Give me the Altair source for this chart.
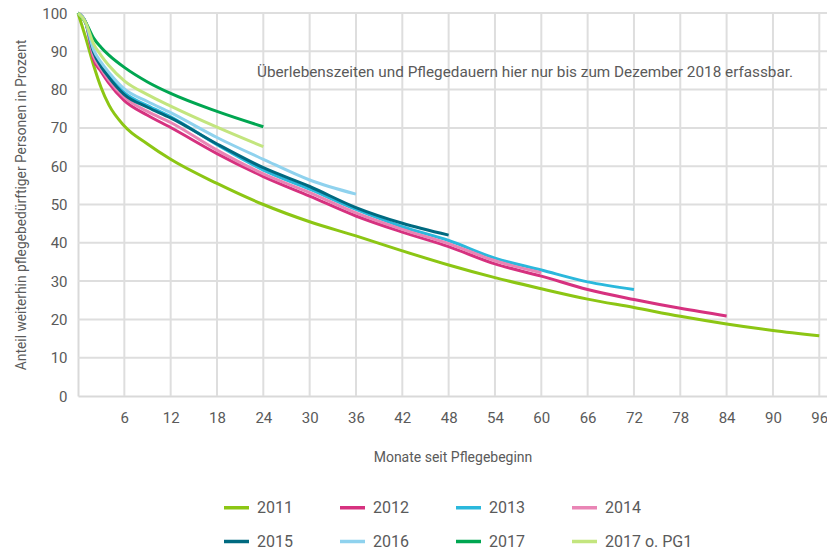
import altair as alt
import pandas as pd

months = [0, 1, 2, 3, 4, 6, 9, 12, 18, 24, 30, 36, 42, 48, 54, 60, 66, 72, 78, 84, 90, 96]

series_names = ["2011", "2012", "2013", "2014", "2015", "2016", "2017", "2017 o. PG1"]
series_colors = ["#8cc614", "#d6317f", "#2bb8dc", "#e985b5", "#006a80", "#8fd2ee", "#00a651", "#c3e57e"]

v2011 = [100, 93.5, 86.5, 80.5, 76, 70.5, 65.8, 61.8, 55.5, 50, 45.5, 41.8, 37.9, 34.2, 30.9, 28, 25.3, 23.1, 20.8, 18.8, 17.1, 15.7]
v2012 = [100, 97.5, 88, 84.7, 81.7, 77.1, 73.3, 70.1, 63.3, 57.3, 52.2, 47.0, 42.8, 39.0, 34.5, 31.3, 27.8, 25.2, 22.9, 20.9]
v2013 = [100, 97.5, 89.5, 86.3, 83.6, 79.2, 75.8, 72.9, 65.6, 59.0, 54.0, 48.7, 44.2, 40.6, 36.0, 32.9, 29.8, 27.8]
v2014 = [100, 97.5, 88.8, 85.4, 82.5, 78.0, 74.3, 71.4, 64.2, 58.0, 53.1, 47.8, 43.5, 39.8, 35.3, 32.2]
v2015 = [100, 97.5, 89.8, 86.0, 83.2, 78.7, 75.4, 72.6, 65.8, 59.6, 54.7, 49.2, 45.1, 42.0]
v2016 = [100, 97.5, 90.5, 87.1, 84.5, 80.2, 76.9, 74.0, 67.5, 61.8, 56.4, 52.7]
v2017 = [100, 97.5, 93.5, 91, 89, 85.8, 82, 79, 74.3, 70.3]
v2017pg1 = [100, 97.5, 92, 88.9, 86.3, 82.3, 78.7, 75.7, 70.2, 65.1]

x_ticks = [6, 12, 18, 24, 30, 36, 42, 48, 54, 60, 66, 72, 78, 84, 90, 96]
y_ticks = [0, 10, 20, 30, 40, 50, 60, 70, 80, 90, 100]
x_range = [0, 97]
y_range = [0, 100]

note_text = ["Überlebenszeiten und Pflegedauern hier nur bis zum Dezember 2018 erfassbar."]

rows = []
for name, vals in zip(series_names, [v2011, v2012, v2013, v2014, v2015, v2016, v2017, v2017pg1]):
    for m, v in zip(months, vals):
        rows.append({"Monat": m, "Anteil": v, "Jahr": name})
df = pd.DataFrame(rows)

FONT = "Roboto"
GREY = "#5a5a5a"
GRID = "#dedede"

x_scale = alt.Scale(domain=x_range, nice=False, zero=True)
y_scale = alt.Scale(domain=y_range, nice=False)

x_axis = alt.Axis(values=x_ticks, title="Monate seit Pflegebeginn", grid=False, orient="bottom",
                  labelPadding=14, titlePadding=25, titleFontSize=14)
y_axis = alt.Axis(values=y_ticks, title="Anteil weiterhin pflegebedürftiger Personen in Prozent",
                  grid=False, orient="left", labelPadding=11, titlePadding=13, titleFontSize=13.8)

vgrid = alt.Chart(pd.DataFrame({"Monat": x_ticks})).mark_rule(
    color=GRID, strokeWidth=2
).encode(x=alt.X("Monat:Q", scale=x_scale, axis=None))

hgrid = alt.Chart(pd.DataFrame({"Anteil": y_ticks[1:]})).mark_rule(
    color=GRID, strokeWidth=2
).encode(y=alt.Y("Anteil:Q", scale=y_scale, axis=None))

lines = alt.Chart(df).mark_line(strokeWidth=3, interpolate="monotone").encode(
    x=alt.X("Monat:Q", scale=x_scale, axis=x_axis),
    y=alt.Y("Anteil:Q", scale=y_scale, axis=y_axis),
    color=alt.Color("Jahr:N",
                    scale=alt.Scale(domain=series_names, range=series_colors),
                    sort=series_names,
                    legend=alt.Legend(title=None, orient="none", legendX=144, legendY=480,
                                      direction="horizontal",
                                      columns=4, symbolType="stroke", symbolSize=625,
                                      symbolStrokeWidth=3.5, labelFontSize=16, labelColor=GREY,
                                      labelFont=FONT, columnPadding=40, rowPadding=11,
                                      labelOffset=6)),
    detail="Jahr:N",
)

note = alt.Chart(pd.DataFrame({"t": note_text})).mark_text(
    align="left", baseline="middle", fontSize=15.3, font=FONT, color=GREY
).encode(text="t:N", x=alt.value(179), y=alt.value(59))

chart = alt.layer(vgrid, hgrid, lines, note).resolve_axis(
    x="independent", y="independent"
).properties(
    width=749, height=383,
    autosize=alt.AutoSizeParams(type="none"),
    padding={"left": 70, "top": 5, "right": 0, "bottom": 157},
).configure_view(stroke=None).configure_axis(
    domainColor="#d9d9d9", domainWidth=2,
    tickSize=0, tickColor="transparent", labelFontSize=15, labelColor=GREY, labelFont=FONT,
    titleFontWeight="normal", titleColor=GREY, titleFont=FONT,
)

chart.save("out.html", embed_options={"renderer": "svg", "actions": False})
